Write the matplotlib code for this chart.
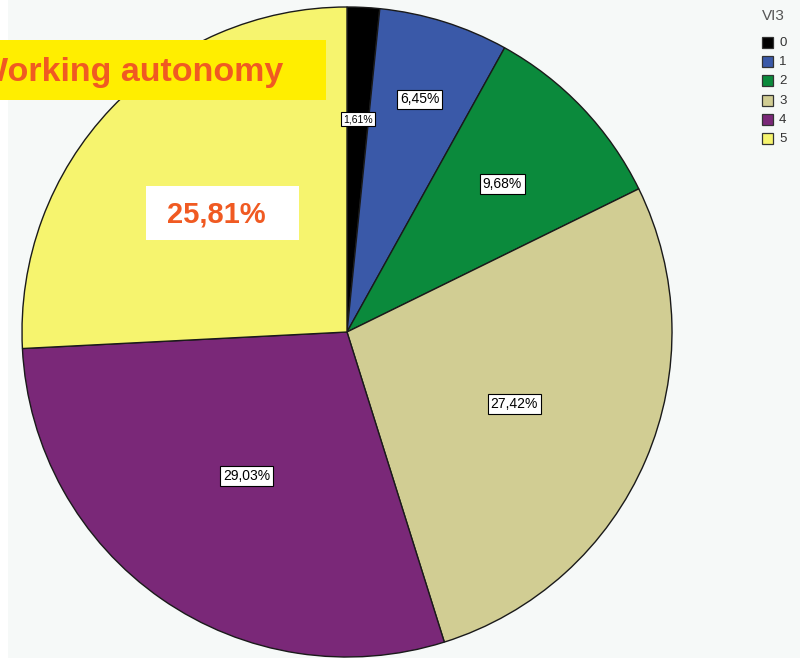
import matplotlib
matplotlib.use("Agg")
import matplotlib.pyplot as plt
from matplotlib.patches import Rectangle
import numpy as np

categories = ["0", "1", "2", "3", "4", "5"]
values = [1.61, 6.45, 9.68, 27.42, 29.03, 25.81]
labels = ["1,61%", "6,45%", "9,68%", "27,42%", "29,03%", "25,81%"]
colors = ["#000000", "#3a59a8", "#0b8a3c", "#d1cd93", "#7a2878", "#f6f46e"]
legend_title = "VI3"
title = "Working autonomy"

W, H = 800, 658
fig = plt.figure(figsize=(W / 100, H / 100), dpi=100)
fig.patch.set_facecolor("white")
ax = fig.add_axes([0, 0, 1, 1])
ax.set_xlim(0, W)
ax.set_ylim(0, H)
ax.set_aspect("equal")
ax.axis("off")

# light background
ax.add_patch(Rectangle((8, 0), W - 8, H, facecolor="#f6f9f8", edgecolor="none", zorder=0))

cx, cy, R = 347, H - 332, 325
wedges, _ = ax.pie(values, colors=colors, startangle=90, counterclock=False,
                   center=(cx, cy), radius=R, frame=True,
                   wedgeprops=dict(edgecolor="#1a1a1a", linewidth=1.0))
ax.set_xlim(0, W)
ax.set_ylim(0, H)
ax.axis("off")

dists = [0.655, 0.75, 0.66, 0.56, 0.54, 0.53]
for i, (w, lab) in enumerate(zip(wedges, labels)):
    ang = np.deg2rad((w.theta1 + w.theta2) / 2)
    x = cx + dists[i] * R * np.cos(ang)
    y = cy + dists[i] * R * np.sin(ang)
    if i == len(values) - 1:
        ax.add_patch(Rectangle((x - 76, y - 27), 153, 54, facecolor="white",
                               edgecolor="none", zorder=4))
        ax.text(x - 6, y - 1, lab, ha="center", va="center", fontsize=21,
                fontweight="bold", color="#f05a22", family="Liberation Sans", zorder=5)
    else:
        fs = 7.5 if i == 0 else 10
        ax.text(x, y, lab, ha="center", va="center", fontsize=fs, color="black",
                family="Liberation Sans", zorder=5,
                bbox=dict(boxstyle="square,pad=0.2", facecolor="white",
                          edgecolor="black", linewidth=0.8))

# title banner
ax.add_patch(Rectangle((0, H - 100), 326, 60, facecolor="#ffee00", edgecolor="none", zorder=6))
ax.text(283, H - 72, title, ha="right", va="center", fontsize=24.5, fontweight="bold",
        color="#f05a22", family="Liberation Sans", zorder=7, clip_on=True)

# legend
ax.text(762, H - 16, legend_title, ha="left", va="center", fontsize=11, color="#555555",
        family="Liberation Sans")
for i, (cat, col) in enumerate(zip(categories, colors)):
    y0 = H - 48 - i * 19.2
    ax.add_patch(Rectangle((762, y0), 11, 11, facecolor=col, edgecolor="#333333",
                           linewidth=0.9))
    ax.text(779, y0 + 5, cat, ha="left", va="center", fontsize=9.5, color="#333333",
            family="Liberation Sans")

fig.savefig("out.png", dpi=100)
